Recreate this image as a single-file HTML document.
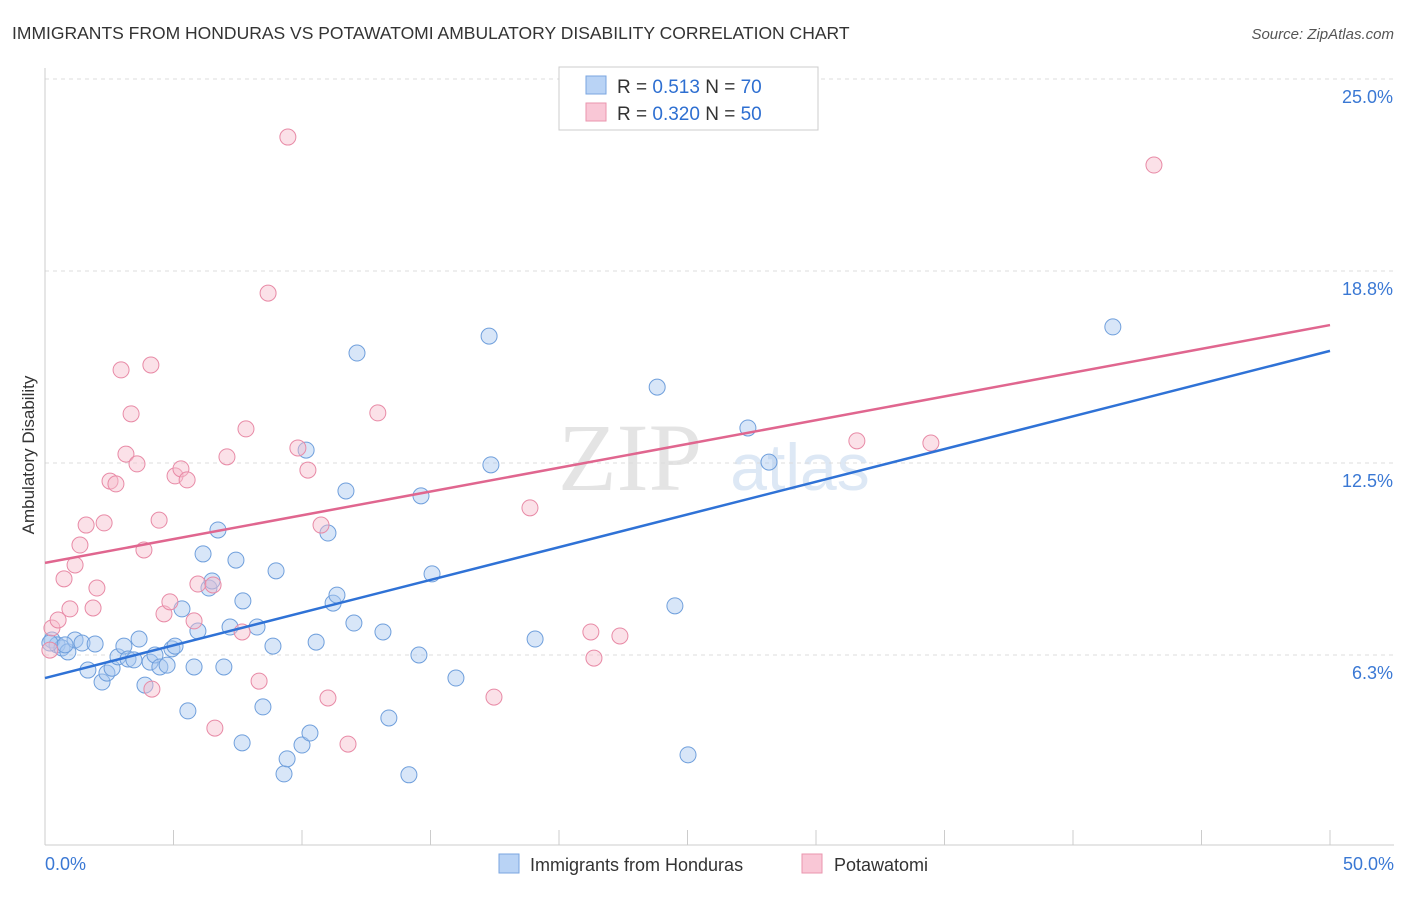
<!DOCTYPE html>
<html><head><meta charset="utf-8"><style>
body{margin:0;background:#fff;font-family:"Liberation Sans",sans-serif;}
</style></head><body>
<svg id="chart" width="1406" height="892" xmlns="http://www.w3.org/2000/svg">
<text x="12" y="39" font-size="17.5" fill="#333">IMMIGRANTS FROM HONDURAS VS POTAWATOMI AMBULATORY DISABILITY CORRELATION CHART</text>
<text x="1394" y="39" font-size="15" fill="#555" font-style="italic" text-anchor="end">Source: ZipAtlas.com</text>
<text x="630" y="490" font-size="96" fill="#e4e4e4" font-family="Liberation Serif" text-anchor="middle">ZIP</text>
<text x="800" y="490" font-size="66" fill="#dde8f5" text-anchor="middle">atlas</text>
<text transform="translate(34,455) rotate(-90)" font-size="17" fill="#333" text-anchor="middle">Ambulatory Disability</text>
<g id="axes"></g><g id="marks"></g>
<g>
<rect x="559" y="67" width="259" height="63" fill="#fff" stroke="#ccc"/>
<rect x="586" y="76" width="20" height="18" fill="#b9d3f5" stroke="#7aa6e0"/>
<rect x="586" y="103" width="20" height="18" fill="#f9c7d6" stroke="#ea95ae"/>
<text x="617" y="93" font-size="19" fill="#333">R = <tspan fill="#2e6fd1"> 0.513</tspan>   N = <tspan fill="#2e6fd1">70</tspan></text>
<text x="617" y="120" font-size="19" fill="#333">R = <tspan fill="#2e6fd1">0.320</tspan>   N = <tspan fill="#2e6fd1">50</tspan></text>
</g>
<g>
<rect x="499" y="854" width="20" height="19" fill="#b9d3f5" stroke="#7aa6e0"/>
<text x="530" y="871" font-size="18" fill="#333">Immigrants from Honduras</text>
<rect x="802" y="854" width="20" height="19" fill="#f9c7d6" stroke="#ea95ae"/>
<text x="834" y="871" font-size="18" fill="#333">Potawatomi</text>
</g>
</svg>
<script>
const yTicks=[25,18.75,12.5,6.25];
const yTickLabels=["25.0%","18.8%","12.5%","6.3%"];
const xTicks=[0,5,10,15,20,25,30,35,40,45,50];
const blueX=[0.27,0.47,0.66,0.89,1.17,1.44,1.67,1.95,2.22,2.41,2.61,2.84,3.07,3.23,3.46,3.66,3.89,4.09,4.28,4.47,4.75,4.94,5.06,5.33,5.56,5.80,5.95,6.15,6.38,6.50,6.73,6.96,7.20,7.43,7.67,7.70,8.25,8.48,8.87,8.99,9.30,9.42,10.00,10.16,10.31,10.55,11.01,11.21,11.36,11.71,12.02,12.14,13.15,13.38,14.16,14.55,14.63,15.06,15.99,17.28,17.35,19.07,23.82,24.51,25.02,27.35,28.17,41.55,0.19,0.78];
const blueY=[6.74,6.58,6.48,6.35,6.74,6.64,5.76,6.61,5.37,5.66,5.82,6.19,6.54,6.12,6.09,6.77,5.27,6.02,6.25,5.86,5.92,6.45,6.54,7.75,4.43,5.86,7.03,9.54,8.43,8.66,10.32,5.86,7.16,9.34,3.39,8.01,7.16,4.56,6.54,8.99,2.38,2.87,3.32,12.92,3.71,6.67,10.22,7.94,8.20,11.59,7.29,16.08,7.00,4.20,2.35,6.25,11.43,8.89,5.50,16.63,12.44,6.77,14.97,7.85,3.00,13.64,12.53,16.93,6.64,6.58];
const pinkX=[0.19,0.27,0.51,0.74,0.97,1.17,1.36,1.60,1.87,2.02,2.30,2.53,2.76,2.96,3.15,3.35,3.58,3.85,4.12,4.16,4.44,4.63,4.86,5.06,5.29,5.53,5.80,5.95,6.54,6.61,7.08,7.67,7.82,8.33,8.68,9.45,9.84,10.23,10.74,11.01,11.79,12.95,17.47,18.87,21.24,21.36,22.37,31.59,34.47,43.15];
const pinkY=[6.41,7.13,7.39,8.73,7.75,9.18,9.83,10.48,7.78,8.43,10.55,11.91,11.82,15.53,12.79,14.10,12.47,9.67,15.69,5.14,10.64,7.59,7.98,12.08,12.31,11.95,7.36,8.56,8.53,3.87,12.70,7.00,13.61,5.40,18.03,23.11,12.99,12.27,10.48,4.85,3.35,14.13,4.88,11.04,7.00,6.15,6.87,13.22,13.15,22.20];
const blueTrend=[5.50,16.15];
const pinkTrend=[9.25,16.99];
const NS="http://www.w3.org/2000/svg";
const X=v=>45+v/50*1285, Y=v=>79+(25-v)*30.72;
function mk(tag,attrs,parent){const e=document.createElementNS(NS,tag);for(const k in attrs)e.setAttribute(k,attrs[k]);parent.appendChild(e);return e;}
const axes=document.getElementById('axes'),marks=document.getElementById('marks');
yTicks.forEach((t,i)=>{
 const g=mk('line',{x1:45,x2:1394,y1:Y(t),y2:Y(t),stroke:'#ddd','stroke-dasharray':'4,4'},axes);
 
 
 const l=mk('text',{x:1393,y:Y(t)+24,'font-size':18,fill:'#3a78d4','text-anchor':'end'},axes);
 l.textContent=yTickLabels[i];
 
 
});
const ax=mk('line',{x1:45,x2:1394,y1:845,y2:845,stroke:'#ccc'},axes);


const ay=mk('line',{x1:45,x2:45,y1:68,y2:845,stroke:'#ccc'},axes);


xTicks.forEach(t=>{
 const k=mk('line',{x1:X(t),x2:X(t),y1:830,y2:845,stroke:'#ccc'},axes);
 
 
});
[[0,"0.0%",'start',45],[50,"50.0%",'end',1394]].forEach(a=>{
 const l=mk('text',{x:a[3],y:870,'font-size':18,fill:'#3a78d4','text-anchor':a[2]},axes);
 l.textContent=a[1];
 
 
});
function pts(xs,ys,fill,stroke,name){xs.forEach((x,i)=>{
 const c=mk('circle',{cx:X(x),cy:Y(ys[i]),r:8,fill:fill,'fill-opacity':0.45,stroke:stroke,'stroke-width':1},marks);
 
 
});}
pts(blueX,blueY,'#a9c8f0','#6f9fdc','honduras-point');
pts(pinkX,pinkY,'#f7bccd','#e88aa6','potawatomi-point');
const bl=mk('line',{x1:X(0),y1:Y(blueTrend[0]),x2:X(50),y2:Y(blueTrend[1]),stroke:'#2f72d6','stroke-width':2.5},marks);


const pl=mk('line',{x1:X(0),y1:Y(pinkTrend[0]),x2:X(50),y2:Y(pinkTrend[1]),stroke:'#e0668f','stroke-width':2.5},marks);


</script>
</body></html>
